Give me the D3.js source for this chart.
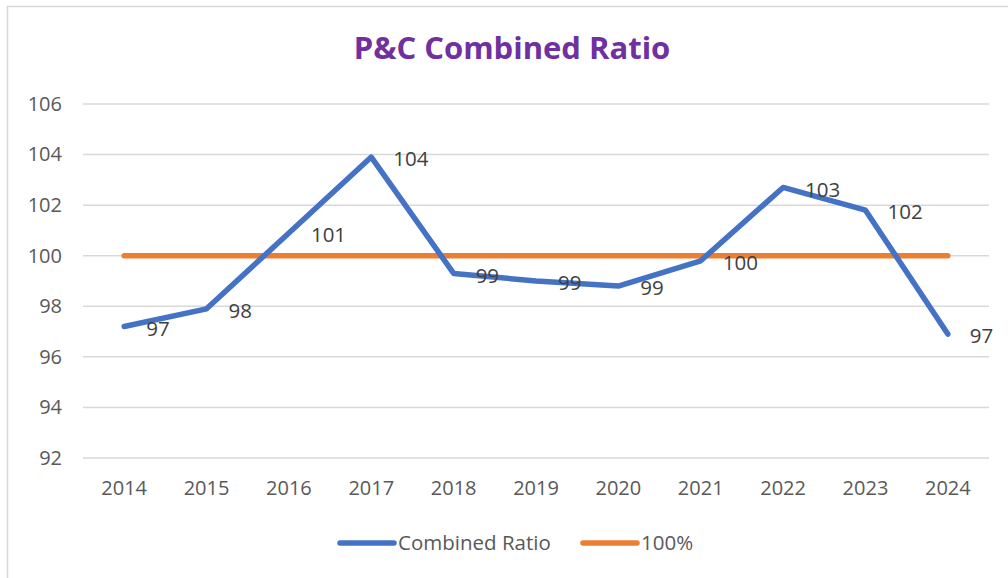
<!DOCTYPE html>
<html>
<head>
<meta charset="utf-8">
<script src="https://cdn.jsdelivr.net/npm/d3@7"></script>
<style>
  body { margin: 0; background: #fff; }
  svg { display: block; font-family: "Open Sans", "Noto Sans", sans-serif; }
</style>
</head>
<body>
<div id="chart"></div>
<script>
const width = 1008;
const height = 578;
const margin = {top: 104, right: 19, bottom: 120, left: 83};
const font = '"Open Sans", "Noto Sans", sans-serif';

// data
const years = ["2014", "2015", "2016", "2017", "2018", "2019", "2020", "2021", "2022", "2023", "2024"];
const combinedRatio = [97.2, 97.9, 100.9, 103.9, 99.3, 99.0, 98.8, 99.8, 102.7, 101.8, 96.9];
const benchmark = [100, 100, 100, 100, 100, 100, 100, 100, 100, 100, 100];
const yTicks = [92, 94, 96, 98, 100, 102, 104, 106];

const svg = d3.select("#chart")
  .append("svg")
  .attr("width", width)
  .attr("height", height);

// chart frame
svg.append("rect")
  .attr("x", 7.5).attr("y", 6.5)
  .attr("width", 1010).attr("height", 600)
  .attr("fill", "none")
  .attr("stroke", "#d9d9d9")
  .attr("stroke-width", 1.5);

var x = d3.scaleBand()
  .domain(years)
  .range([margin.left, width - margin.right]);

var y = d3.scaleLinear()
  .domain([92, 106])
  .range([height - margin.bottom, margin.top]);

// gridlines
svg.append("g")
  .selectAll("line")
  .data(yTicks)
  .join("line")
  .attr("x1", margin.left)
  .attr("x2", width - margin.right)
  .attr("y1", d => y(d))
  .attr("y2", d => y(d))
  .attr("stroke", "#d9d9d9")
  .attr("stroke-width", 1.5);

// y axis labels
var yAxis = svg.append("g")
  .attr("transform", `translate(${margin.left - 21},0)`)
  .call(d3.axisLeft(y).tickValues(yTicks).tickSize(0).tickPadding(0));
yAxis.select(".domain").remove();
yAxis.selectAll("text")
  .attr("fill", "#595959")
  .style("font-family", font)
  .style("font-size", "20px");

// x axis labels
var xAxis = svg.append("g")
  .attr("transform", `translate(0,${height - margin.bottom + 22})`)
  .call(d3.axisBottom(x).tickSize(0).tickPadding(0));
xAxis.select(".domain").remove();
xAxis.selectAll("text")
  .attr("fill", "#595959")
  .attr("dy", "0.75em")
  .style("font-family", font)
  .style("font-size", "20px");

var cx = d => x(d) + x.bandwidth() / 2;

var line = d3.line()
  .x((d, i) => cx(years[i]))
  .y(d => y(d));

svg.append("path")
  .datum(benchmark)
  .attr("d", line)
  .attr("fill", "none")
  .attr("stroke", "#ED7D31")
  .attr("stroke-width", 5.5)
  .attr("stroke-linecap", "round");

svg.append("path")
  .datum(combinedRatio)
  .attr("d", line)
  .attr("fill", "none")
  .attr("stroke", "#4472C4")
  .attr("stroke-width", 5.5)
  .attr("stroke-linecap", "round")
  .attr("stroke-linejoin", "round");

// data labels
svg.append("g")
  .selectAll("text")
  .data(combinedRatio)
  .join("text")
  .attr("x", (d, i) => cx(years[i]) + 22)
  .attr("y", d => y(d) + 2)
  .attr("dy", "0.35em")
  .attr("fill", "#404040")
  .style("font-size", "20.5px")
  .text(d => d3.format(".0f")(d));

// title
svg.append("text")
  .attr("x", 512)
  .attr("y", 48)
  .attr("dy", "0.35em")
  .attr("text-anchor", "middle")
  .attr("fill", "#7030A0")
  .style("font-size", "31px")
  .style("font-weight", "bold")
  .text("P&C Combined Ratio");

// legend
const legendItems = [
  {name: "Combined Ratio", color: "#4472C4", x: 340},
  {name: "100%", color: "#ED7D31", x: 583}
];
var legend = svg.append("g")
  .selectAll("g")
  .data(legendItems)
  .join("g")
  .attr("transform", d => `translate(${d.x},543)`);
legend.append("line")
  .attr("x1", 0).attr("x2", 54)
  .attr("stroke", d => d.color)
  .attr("stroke-width", 5.5)
  .attr("stroke-linecap", "round");
legend.append("text")
  .attr("x", 58)
  .attr("dy", "0.35em")
  .attr("fill", "#595959")
  .style("font-size", "20.5px")
  .text(d => d.name);
</script>
</body>
</html>
